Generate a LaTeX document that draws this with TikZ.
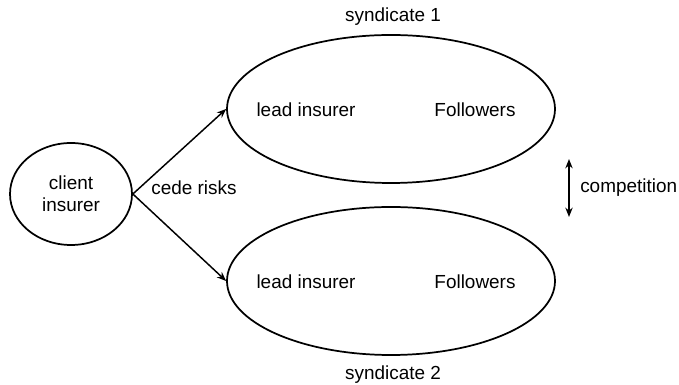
\documentclass[tikz,border=0pt]{standalone}
\usepackage{fontspec}
\setmainfont{Liberation Sans}
\usetikzlibrary{shapes.geometric,arrows.meta}
\begin{document}
\begin{tikzpicture}[x=0.75pt,y=0.75pt,
  font=\fontsize{14.2}{16.5}\selectfont,
  blob/.style={draw,ellipse,line width=1.3pt,inner sep=0pt},
  link/.style={line width=1.1pt,-{Stealth[length=7pt,width=5.5pt]}}]
\useasboundingbox (0,0) rectangle (679,385);
\pgfmathsetmacro{\synw}{246}
\pgfmathsetmacro{\synh}{111}
\node[blob,minimum width=91.5pt,minimum height=76.5pt,align=center] (client) at (71,191) {client\\insurer};
\node[blob,minimum width=\synw pt,minimum height=\synh pt] (syn1) at (391,276) {};
\node[blob,minimum width=\synw pt,minimum height=\synh pt] (syn2) at (391,104) {};
\node (lead1) at (306,275) {lead insurer};
\node (fol1) at (475,275) {Followers};
\node (lead2) at (306,103) {lead insurer};
\node (fol2) at (475,103) {Followers};
\node (lab1) at (393,368) {syndicate 1};
\node (lab2) at (393,10) {syndicate 2};
\node (cede) at (194,197) {cede risks};
\draw[link] (client.east) -- (syn1.west);
\draw[link] (client.east) -- (syn2.west);
\coordinate (ctop) at (569,226);
\coordinate (cbot) at (569,168);
\draw[link,{Stealth[length=7pt,width=5.5pt]}-{Stealth[length=7pt,width=5.5pt]}] (ctop) -- (cbot);
\node[anchor=west,inner sep=0pt] (comp) at (580,197) {competition};
\end{tikzpicture}
\end{document}
